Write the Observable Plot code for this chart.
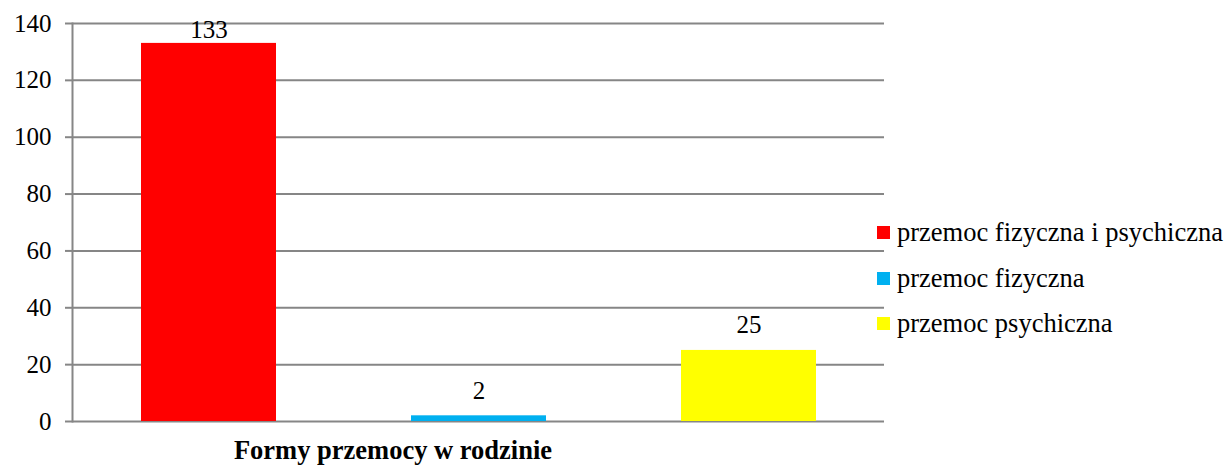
<!DOCTYPE html>
<html>
<head>
<meta charset="utf-8">
<script src="https://cdn.jsdelivr.net/npm/d3@7"></script>
<script src="https://cdn.jsdelivr.net/npm/@observablehq/plot@0.6"></script>
<style>
  body { margin: 0; background: #fff; font-family: 'Liberation Serif', 'Times New Roman', serif; }
  #wrap { position: relative; width: 1227px; height: 466px; }
  #chart svg { font-family: 'Liberation Serif', 'Times New Roman', serif !important; }
  #legend { position: absolute; left: 877px; top: 210px; font-size: 26.5px; color: #000; }
  .row { display: flex; align-items: center; height: 45.5px; white-space: nowrap; }
  .sw { width: 13px; height: 13px; margin-right: 7px; flex: none; }
  #caption { position: absolute; top: 435px; left: 393px; transform: translateX(-50%); font-size: 26.5px; font-weight: bold; white-space: nowrap; }
</style>
</head>
<body>
<div id="wrap">
  <div id="chart"></div>
  <div id="legend"></div>
  <div id="caption"></div>
</div>
<script>
const categories = ["przemoc fizyczna i psychiczna", "przemoc fizyczna", "przemoc psychiczna"];
const values = [133, 2, 25];
const colors = ["#FF0000", "#00B0F0", "#FFFF00"];
const yTicks = [0, 20, 40, 60, 80, 100, 120, 140];
const axisTitle = "Formy przemocy w rodzinie";

const yMax = yTicks[yTicks.length - 1];
const data = categories.map((c, i) => ({category: c, value: values[i]}));
const nearTop = d => d.value > yMax - 12;

const chart = Plot.plot({
  width: 1227,
  height: 434,
  marginLeft: 72,
  marginRight: 343,
  marginTop: 23,
  marginBottom: 13,
  style: {fontFamily: "'Liberation Serif', 'Times New Roman', serif", fontSize: "25px", color: "#000", background: "#fff", overflow: "visible"},
  x: {domain: categories, axis: null, paddingInner: 0.5, paddingOuter: 0.25},
  y: {domain: [0, yMax], axis: null},
  color: {domain: categories, range: colors},
  marks: [
    Plot.gridY(yTicks, {stroke: "#868686", strokeOpacity: 1, strokeWidth: 2}),
    Plot.axisY(yTicks, {tickSize: 7, tickPadding: 14, stroke: "#868686", strokeWidth: 2, fill: "#000", fontSize: 25, label: null}),
    Plot.frame({anchor: "left", stroke: "#868686", strokeWidth: 2}),
    Plot.barY(data, {x: "category", y: "value", fill: "category"}),
    Plot.text(data.filter(d => !nearTop(d)), {x: "category", y: "value", text: d => String(d.value), lineAnchor: "bottom", dy: -17, fontSize: 25, fill: "#000"}),
    Plot.text(data.filter(nearTop), {x: "category", y: () => yMax, text: d => String(d.value), lineAnchor: "middle", dy: 6, fontSize: 25, fill: "#000"})
  ]
});
document.getElementById("chart").appendChild(chart);

const legend = document.getElementById("legend");
categories.forEach((c, i) => {
  const row = document.createElement("div");
  row.className = "row";
  const sw = document.createElement("span");
  sw.className = "sw";
  sw.style.background = colors[i];
  const t = document.createElement("span");
  t.textContent = c;
  row.appendChild(sw);
  row.appendChild(t);
  legend.appendChild(row);
});
document.getElementById("caption").textContent = axisTitle;
</script>
</body>
</html>
